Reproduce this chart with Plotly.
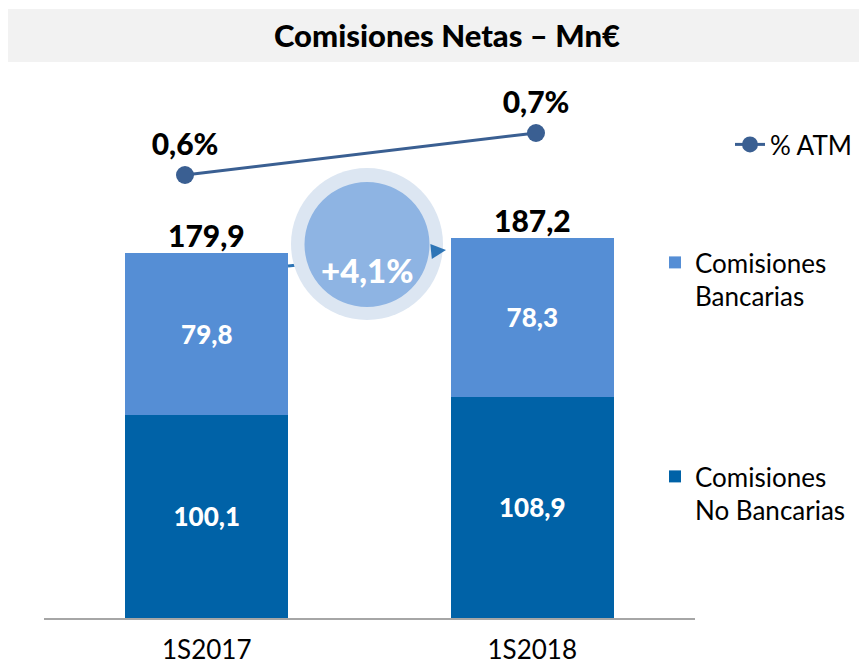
import math
import plotly.graph_objects as go

categories = ["1S2017", "1S2018"]
no_bancarias = [100.1, 108.9]
bancarias = [79.8, 78.3]
totals = [179.9, 187.2]
atm_pct = [0.6, 0.7]
growth_label = "+4,1%"
title_text = "Comisiones Netas – Mn€"

# page offset (body margin) – geometry below is given in screenshot pixels
OFF = 8
W, H = 867, 658
PLOT_L, PLOT_R, PLOT_T, PLOT_B = 44, 695, 80, 618  # screenshot pixels
L = PLOT_L - OFF
R = W - (PLOT_R - OFF)
T = PLOT_T - OFF
B = H - (PLOT_B - OFF)
PW = W - L - R
PH = H - T - B


def px(x):
    return (x - PLOT_L) / PW


def py(y):
    return (PLOT_B - y) / PH


FONT = "Lato"
C_DARK = "#0062A7"
C_LIGHT = "#558ED5"
C_LINE = "#3A5F92"

fig = go.Figure()
fig.add_trace(go.Bar(
    x=categories, y=no_bancarias, name="Comisiones<br>No Bancarias",
    marker=dict(color=C_DARK, line=dict(width=0)),
    texttemplate="%{y:.1f}", textposition="inside", insidetextanchor="middle",
    textfont=dict(color="white", size=26, family=FONT, weight=900),
    legend="legend3", hoverinfo="skip",
))
fig.add_trace(go.Bar(
    x=categories, y=bancarias, name="Comisiones<br>Bancarias",
    marker=dict(color=C_LIGHT, line=dict(width=0)),
    texttemplate="%{y:.1f}", textposition="inside", insidetextanchor="middle",
    textfont=dict(color="white", size=26, family=FONT, weight=900),
    legend="legend2", hoverinfo="skip",
))
fig.add_trace(go.Scatter(
    x=categories, y=atm_pct, name="% ATM", xaxis="x2", yaxis="y2",
    mode="lines+markers+text",
    line=dict(color=C_LINE, width=3), marker=dict(size=18, color=C_LINE),
    texttemplate="%{y:.1f}%", textposition="top center",
    textfont=dict(color="black", size=30, family=FONT, weight=900),
    legend="legend", cliponaxis=False,
))

annotations = []
for c, t in zip(categories, totals):
    annotations.append(dict(
        x=c, y=t, xref="x", yref="y", text=f"{t:.1f}".replace(".", ","),
        showarrow=False, yanchor="bottom", yshift=-2,
        font=dict(size=30, family=FONT, color="black", weight=900),
    ))
annotations.append(dict(
    x=px(367), y=py(248), xref="paper", yref="paper", text=growth_label,
    showarrow=False, font=dict(size=33, family=FONT, color="white", weight=900),
))

# arrow geometry (screenshot pixels)
ax0, ay0, tx, ty = 288, 266, 446, 250
dx, dy = tx - ax0, ty - ay0
n = math.hypot(dx, dy)
ux, uy = dx / n, dy / n
hl, hw = 15, 7.5
bx, by = tx - hl * ux, ty - hl * uy
p1 = (bx - hw * uy, by + hw * ux)
p2 = (bx + hw * uy, by - hw * ux)

shapes = [
    dict(type="rect", xref="paper", yref="paper", x0=px(5), x1=px(875), y0=py(62), y1=py(9),
         fillcolor="#F2F2F2", line=dict(width=0), layer="below"),
    dict(type="line", xref="paper", yref="paper", x0=px(ax0), y0=py(ay0), x1=px(bx), y1=py(by),
         line=dict(color="#2E75B6", width=3), layer="above"),
    dict(type="circle", xref="paper", yref="paper", x0=px(291), x1=px(443), y0=py(320), y1=py(168),
         fillcolor="#DCE6F2", line=dict(width=0), layer="above"),
    dict(type="circle", xref="paper", yref="paper", x0=px(304.5), x1=px(429.5), y0=py(307), y1=py(182),
         fillcolor="#8EB4E3", line=dict(width=0), layer="above"),
    dict(type="path", xref="paper", yref="paper",
         path=f"M{px(tx)},{py(ty)} L{px(p1[0])},{py(p1[1])} L{px(p2[0])},{py(p2[1])} Z",
         fillcolor="#2E75B6", line=dict(width=0), layer="above"),
]

leg_font = dict(size=26, family=FONT, color="black")
fig.update_layout(
    width=W, height=H,
    margin=dict(l=L, r=R, t=T, b=B, autoexpand=False),
    paper_bgcolor="white", plot_bgcolor="white",
    separators=",.",
    barmode="stack", bargap=0.5,
    title=dict(text=title_text, x=(447 - OFF) / W, xanchor="center", y=1 - (36 - OFF) / H,
               yanchor="middle", font=dict(size=31, family=FONT, color="black", weight=900)),
    xaxis=dict(type="category", showline=True, linecolor="#A6A6A6", linewidth=2,
               showgrid=False, zeroline=False, ticks="", ticklabelstandoff=8,
               tickfont=dict(size=26, family=FONT, color="black"), fixedrange=True),
    xaxis2=dict(type="category", overlaying="x", range=[-0.4017, 1.453], visible=False),
    yaxis=dict(range=[0, PH / 2.03], visible=False, showgrid=False, zeroline=False),
    yaxis2=dict(range=[0.6 - (PLOT_B - 175) / 420, 0.7 + (133 - PLOT_T) / 420], overlaying="y",
                visible=False, showgrid=False, zeroline=False),
    legend=dict(x=px(730), y=py(121), xanchor="left", yanchor="top", font=leg_font,
                bgcolor="rgba(0,0,0,0)", valign="top"),
    legend2=dict(x=px(655), y=py(239), xanchor="left", yanchor="top", font=leg_font,
                 bgcolor="rgba(0,0,0,0)", valign="top"),
    legend3=dict(x=px(655), y=py(453), xanchor="left", yanchor="top", font=leg_font,
                 bgcolor="rgba(0,0,0,0)", valign="top"),
    annotations=annotations,
    shapes=shapes,
    showlegend=True,
)

fig.write_html("out.html")
